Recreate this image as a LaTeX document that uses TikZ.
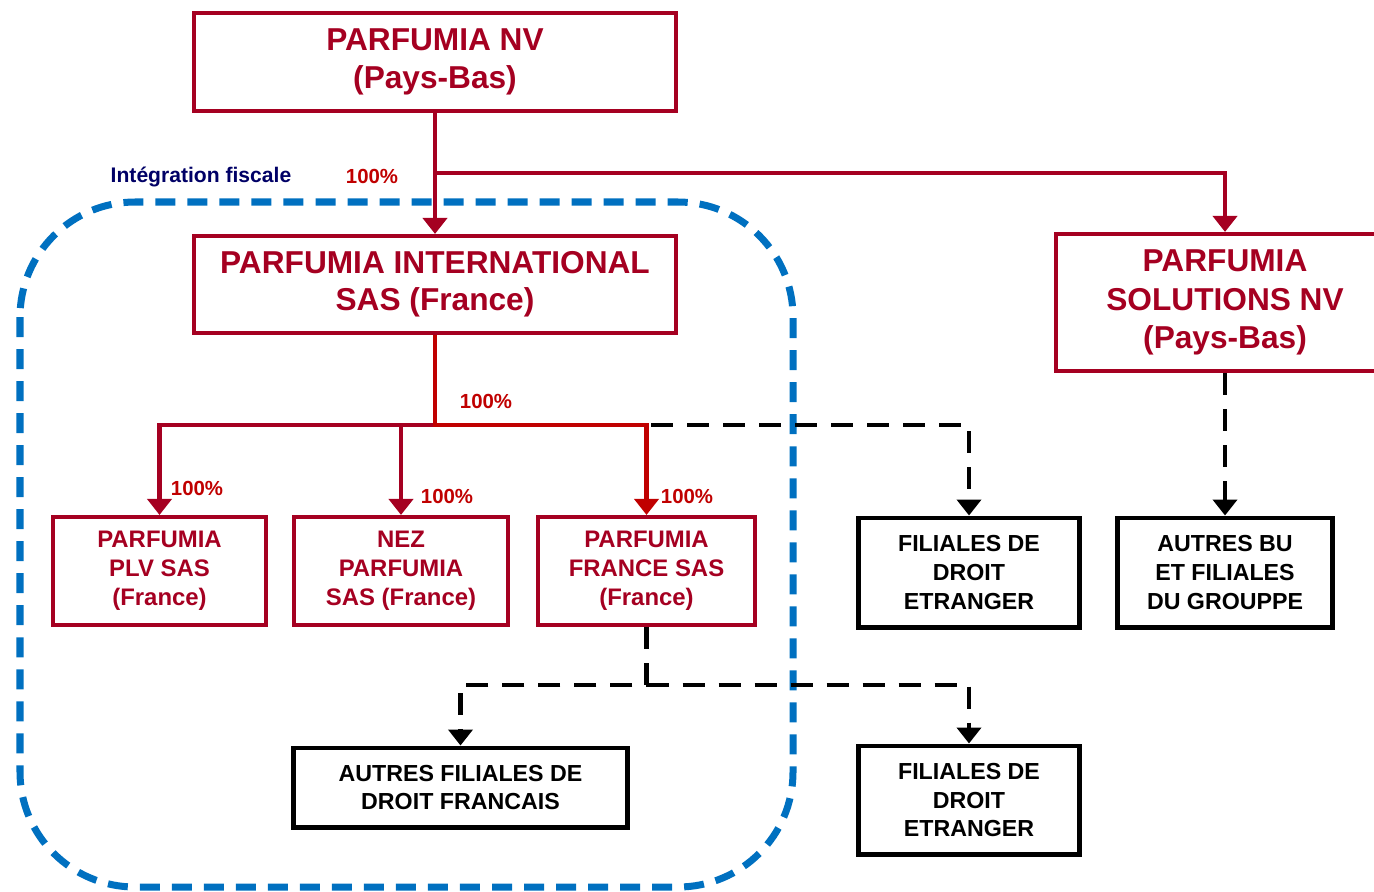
\documentclass[tikz,border=0pt]{standalone}
\usepackage{fontspec}
\setmainfont{Liberation Sans}
\usetikzlibrary{arrows.meta,calc}
\definecolor{parfred}{HTML}{A50021}
\definecolor{franred}{HTML}{C00000}
\definecolor{fiscblue}{HTML}{0070C0}
\definecolor{fiscnavy}{HTML}{000066}
\tikzset{%
        x = 0.01cm,
        y = -0.01cm,
        > = {Triangle[width=0.24cm,length=0.16cm]}
}
\tikzstyle{bigbox}=[
    draw = parfred,
    text = parfred,
    line width = 1.15pt,
    inner sep = 0pt,
    align = center,
    font = \bfseries\fontsize{9}{10.6}\selectfont
]
\tikzstyle{smallbox}=[
    draw = parfred,
    text = parfred,
    line width = 1.15pt,
    inner sep = 0pt,
    align = center,
    minimum height = 1.08cm,
    font = \bfseries\fontsize{6.8}{8.3}\selectfont
]
\tikzstyle{blackbox}=[
    draw = black,
    line width = 1.4pt,
    inner sep = 0pt,
    align = center,
    font = \bfseries\fontsize{6.6}{8.2}\selectfont
]
\tikzstyle{redline}=[draw = parfred, line width = 1.15pt]
\tikzstyle{franline}=[draw = franred, line width = 1.15pt]
\tikzstyle{blackdash}=[draw = black, line width = 1.4pt, dash pattern = on 0.22cm off 0.14cm]
\tikzstyle{fiscline}=[draw = fiscblue, line width = 0.07cm, dash pattern = on 0.2cm off 0.12cm]
\tikzstyle{pct}=[text = franred, font = \bfseries\fontsize{5.8}{7}\selectfont, inner sep = 0pt]

\begin{document}
\begin{tikzpicture}
            \useasboundingbox (0,0) rectangle (1374,891);
            \draw[fiscline, rounded corners = 1.15cm] (20,202) rectangle (793,887);
            \node[text = fiscnavy, font = \bfseries\fontsize{6}{7}\selectfont] (fiscal) at (201,177) {Intégration fiscale};

            \node[bigbox, minimum width = 4.82cm, minimum height = 0.98cm] (nv) at (435,62) {PARFUMIA NV\\(Pays-Bas)};
            \node[bigbox, minimum width = 4.82cm, minimum height = 0.97cm] (intl) at (435,284.5) {PARFUMIA INTERNATIONAL\\SAS (France)};
            \node[bigbox, minimum width = 3.38cm, minimum height = 1.37cm, font = \bfseries\fontsize{9}{11}\selectfont] (sol) at (1225,302.5) {PARFUMIA\\SOLUTIONS NV\\(Pays-Bas)};

            \node[smallbox, minimum width = 2.13cm] (plv) at (159.5,571) {PARFUMIA\\PLV SAS\\(France)};
            \node[smallbox, minimum width = 2.14cm] (nez) at (401,571) {NEZ\\PARFUMIA\\SAS (France)};
            \node[smallbox, minimum width = 2.17cm] (fra) at (646.5,571) {PARFUMIA\\FRANCE SAS\\(France)};
            \node[blackbox, minimum width = 2.2cm, minimum height = 1.09cm] (etr1) at (969,572.5) {FILIALES DE\\DROIT\\ETRANGER};
            \node[blackbox, minimum width = 2.15cm, minimum height = 1.09cm] (autbu) at (1225,572.5) {AUTRES BU\\ET FILIALES\\DU GROUPPE};
            \node[blackbox, minimum width = 3.33cm, minimum height = 0.79cm] (afr) at (460.5,787.5) {AUTRES FILIALES DE\\DROIT FRANCAIS};
            \node[blackbox, minimum width = 2.2cm, minimum height = 1.08cm] (etr2) at (969,800) {FILIALES DE\\DROIT\\ETRANGER};

            \coordinate (j1) at (435,173);
            \coordinate (j2) at (435,425);
            \coordinate (j3) at (646.5,685);

            \path[->]
            (nv) edge[redline] (intl)
            (sol) edge[blackdash] (autbu);
            \draw[blackdash, ->] (j2) -| (etr1);
            \draw[redline, ->] (j1) -| (sol);
            \draw[redline, ->] (j2) -| (plv);
            \draw[redline, ->] (j2) -| (nez);
            \draw[franline, ->] (intl) -- (j2) -| (fra);
            \draw[blackdash, ->] (fra) -- (j3) -| (afr);
            \draw[blackdash, ->] (j3) -| (etr2);

            \node[pct] (pct1) at (372,176) {100\%};
            \node[pct] (pct2) at (486,401) {100\%};
            \node[pct] (pct3) at (197,488) {100\%};
            \node[pct] (pct4) at (447,496) {100\%};
            \node[pct] (pct5) at (687,496) {100\%};
        \end{tikzpicture}
\end{document}
